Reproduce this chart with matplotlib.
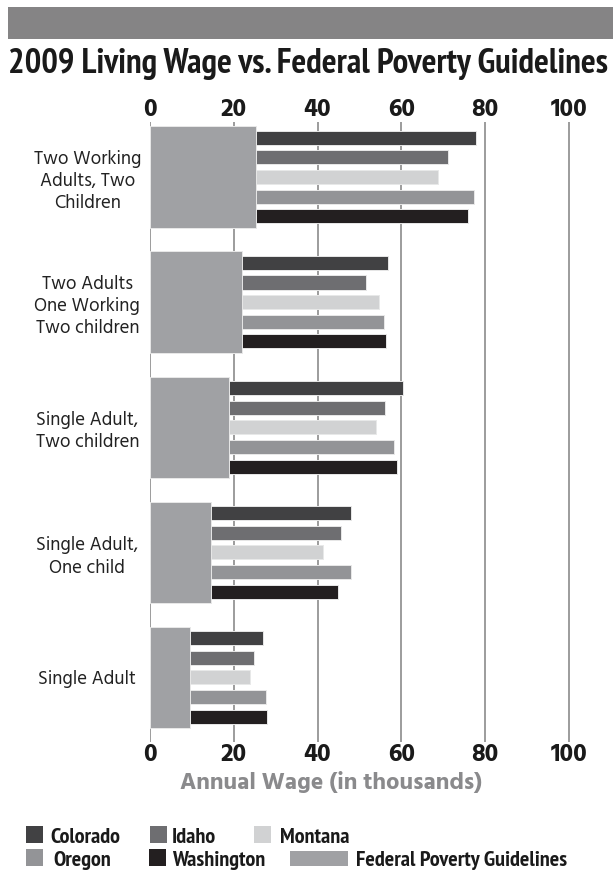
import matplotlib
matplotlib.use("Agg")
import matplotlib.pyplot as plt
from matplotlib.patches import Rectangle
import numpy as np

# household types, top to bottom
categories = ["Two Working\nAdults, Two\nChildren",
              "Two Adults\nOne Working\nTwo children",
              "Single Adult,\nTwo children",
              "Single Adult,\nOne child",
              "Single Adult"]

# annual living wage, thousands of dollars
colorado = [77.7, 56.8, 60.5, 47.9, 27.1]
idaho = [71.1, 51.6, 56.2, 45.7, 24.8]
montana = [68.8, 54.7, 53.9, 41.3, 23.8]
oregon = [77.4, 55.9, 58.2, 48.0, 27.6]
washington = [76.0, 56.4, 59.0, 44.8, 28.0]
poverty = [25.4, 21.9, 18.8, 14.5, 9.5]

xticks = [0, 20, 40, 60, 80, 100]

states = [("Colorado", colorado, "#414143"),
          ("Idaho", idaho, "#6e6e71"),
          ("Montana", montana, "#d1d2d3"),
          ("Oregon", oregon, "#939497"),
          ("Washington", washington, "#231f20")]
fpg_color = "#a0a1a4"

narrow = ["PT Sans Narrow", "DejaVu Sans"]
body = ["Hind", "DejaVu Sans"]

W, H = 613, 871
fig = plt.figure(figsize=(W / 100, H / 100), dpi=100)
renderer = fig.canvas.get_renderer()


def fit_width(txt, width_px):
    # shrink/grow a text until it spans the wanted width
    ext = txt.get_window_extent(renderer)
    txt.set_fontsize(txt.get_fontsize() * width_px / ext.width)


# grey banner across the top
fig.add_artist(Rectangle((8.3 / W, 1 - 39.3 / H), 1, 32 / H,
                         transform=fig.transFigure, color="#858485", lw=0))
title = fig.text(8 / W, 1 - 72.7 / H, "2009 Living Wage vs. Federal Poverty Guidelines",
                 family=narrow, fontsize=28, fontweight="bold", color="#1a1a1a",
                 va="baseline", ha="left")
fit_width(title, 600)

ax = fig.add_axes([149.8 / W, 1 - 742 / H, (611 - 149.8) / W, 620 / H])
y = np.arange(len(categories))
pitch = 0.157
bar_h = 0.112
for i, (name, vals, col) in enumerate(states):
    ax.barh(y + (i - 2) * pitch, vals, height=bar_h, color=col,
            edgecolor="#e8e8e8", linewidth=0.7, zorder=2)
ax.barh(y, poverty, height=0.81, color=fpg_color, edgecolor="#e8e8e8",
        linewidth=0.7, zorder=3)

ax.set_xlim(0, 110)
ax.set_ylim(4.516, -0.44)
ax.set_xticks(xticks)
ax.xaxis.grid(True, color="#9c9c9c", linewidth=1.4, zorder=0)
ax.set_axisbelow(True)
for s in ax.spines.values():
    s.set_visible(False)
ax.tick_params(axis="x", length=0, labeltop=True, labelbottom=True, pad=1,
               labelsize=18, labelcolor="#1a1a1a")
for lab in ax.get_xticklabels():
    lab.set_fontweight("bold")
    lab.set_family(body)

ax.set_yticks(y)
ax.set_yticklabels(categories, family=body, fontsize=13.5, color="#222222",
                   ha="center", linespacing=1.3)
ax.tick_params(axis="y", length=0, pad=45)

ax.set_xlabel("Annual Wage (in thousands)", family=body, fontsize=14.5,
              fontweight="bold", color="#8a8a8c")
fit_width(ax.xaxis.label, 303)
ax.xaxis.set_label_coords((331.5 - 149.8) / (611 - 149.8), -0.046)

# legend keys, laid out in two rows
legend_items = [("Colorado", "#414143", 26, 50, 0, 17),
                ("Idaho", "#6e6e71", 150, 172, 0, 17),
                ("Montana", "#d1d2d3", 254, 280, 0, 17),
                ("Oregon", "#939497", 26, 53, 1, 17),
                ("Washington", "#231f20", 149, 172, 1, 17),
                ("Federal Poverty Guidelines", fpg_color, 290, 356, 1, 58)]
for label, col, kx, tx, row, kw in legend_items:
    base = 842.7 if row == 0 else 865.5
    kh = 15 if kw > 20 else 16.7
    fig.add_artist(Rectangle((kx / W, 1 - base / H), kw / W, kh / H,
                             transform=fig.transFigure, color=col, lw=0))
    fig.text(tx / W, 1 - base / H, label, family=narrow, fontsize=16,
             fontweight="bold", color="#1a1a1a", va="baseline", ha="left")

fig.savefig("out.png", dpi=100)
